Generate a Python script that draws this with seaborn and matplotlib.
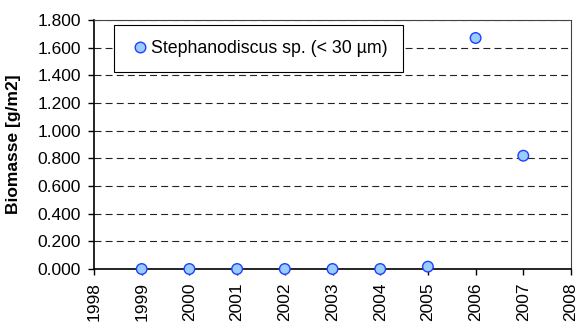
import matplotlib
matplotlib.use("Agg")
import matplotlib.pyplot as plt
import seaborn as sns
import pandas as pd
from matplotlib.ticker import FuncFormatter, MultipleLocator

years = [1999, 2000, 2001, 2002, 2003, 2004, 2005, 2006, 2007]
biomass = [0.0, 0.0, 0.0, 0.0, 0.0, 0.0, 0.017, 1.67, 0.819]
series_name = "Stephanodiscus sp. (< 30 µm)"
y_label = "Biomasse [g/m2]"

df = pd.DataFrame({"Jahr": years, "Biomasse": biomass, "Taxon": series_name})

sns.set_theme(style="white")
plt.rcParams["font.family"] = ["Liberation Sans", "DejaVu Sans"]
plt.rcParams["lines.scale_dashes"] = False
plt.rcParams["text.color"] = "black"

fig = plt.figure(figsize=(5.85, 3.23), dpi=100)
ax = fig.add_axes([94 / 585, 1 - 269 / 323, (571 - 94) / 585, (269 - 20) / 323])

sns.scatterplot(data=df, x="Jahr", y="Biomasse", hue="Taxon",
                palette=["#99CCFF"], edgecolor="#1F3FFF", linewidth=1.0,
                s=58, ax=ax, zorder=3, clip_on=False)

ax.set_xlim(1998, 2008)
ax.set_ylim(0, 1.8)
ax.xaxis.set_major_locator(MultipleLocator(1))
ax.yaxis.set_major_locator(MultipleLocator(0.2))
ax.yaxis.set_major_formatter(FuncFormatter(lambda v, p: f"{v:.3f}"))
ax.xaxis.set_major_formatter(FuncFormatter(lambda v, p: f"{int(round(v))}"))

ax.grid(axis="y", color="#222222", linestyle=(0, (5.0, 3.0)), linewidth=0.8)
ax.set_axisbelow(True)

for s in ax.spines.values():
    s.set_color("#444444")
    s.set_linewidth(0.8)
ax.spines["left"].set_color("black")
ax.spines["left"].set_linewidth(1.2)
ax.spines["bottom"].set_color("black")
ax.spines["bottom"].set_linewidth(1.2)

ax.tick_params(axis="both", direction="out", length=4.5, width=1, color="black",
               labelsize=12.5, labelcolor="black", bottom=True, left=True)
ax.tick_params(axis="x", rotation=90, pad=5)
ax.tick_params(axis="y", pad=5)

ax.set_xlabel("")
ax.set_ylabel(y_label, fontsize=12.5, fontweight="bold", color="black", labelpad=12)

leg = ax.legend(loc="upper left", bbox_to_anchor=(20 / 477, 1 - 5 / 249),
                frameon=True, fancybox=False, fontsize=12.8, borderpad=0.85,
                handletextpad=0.05, handlelength=1.2, markerscale=1.0,
                borderaxespad=0, labelcolor="black")
leg.get_frame().set_edgecolor("black")
leg.get_frame().set_linewidth(0.8)
leg.get_frame().set_facecolor("white")
leg.get_frame().set_alpha(1)

fig.savefig("out.png", dpi=100, facecolor="white")
